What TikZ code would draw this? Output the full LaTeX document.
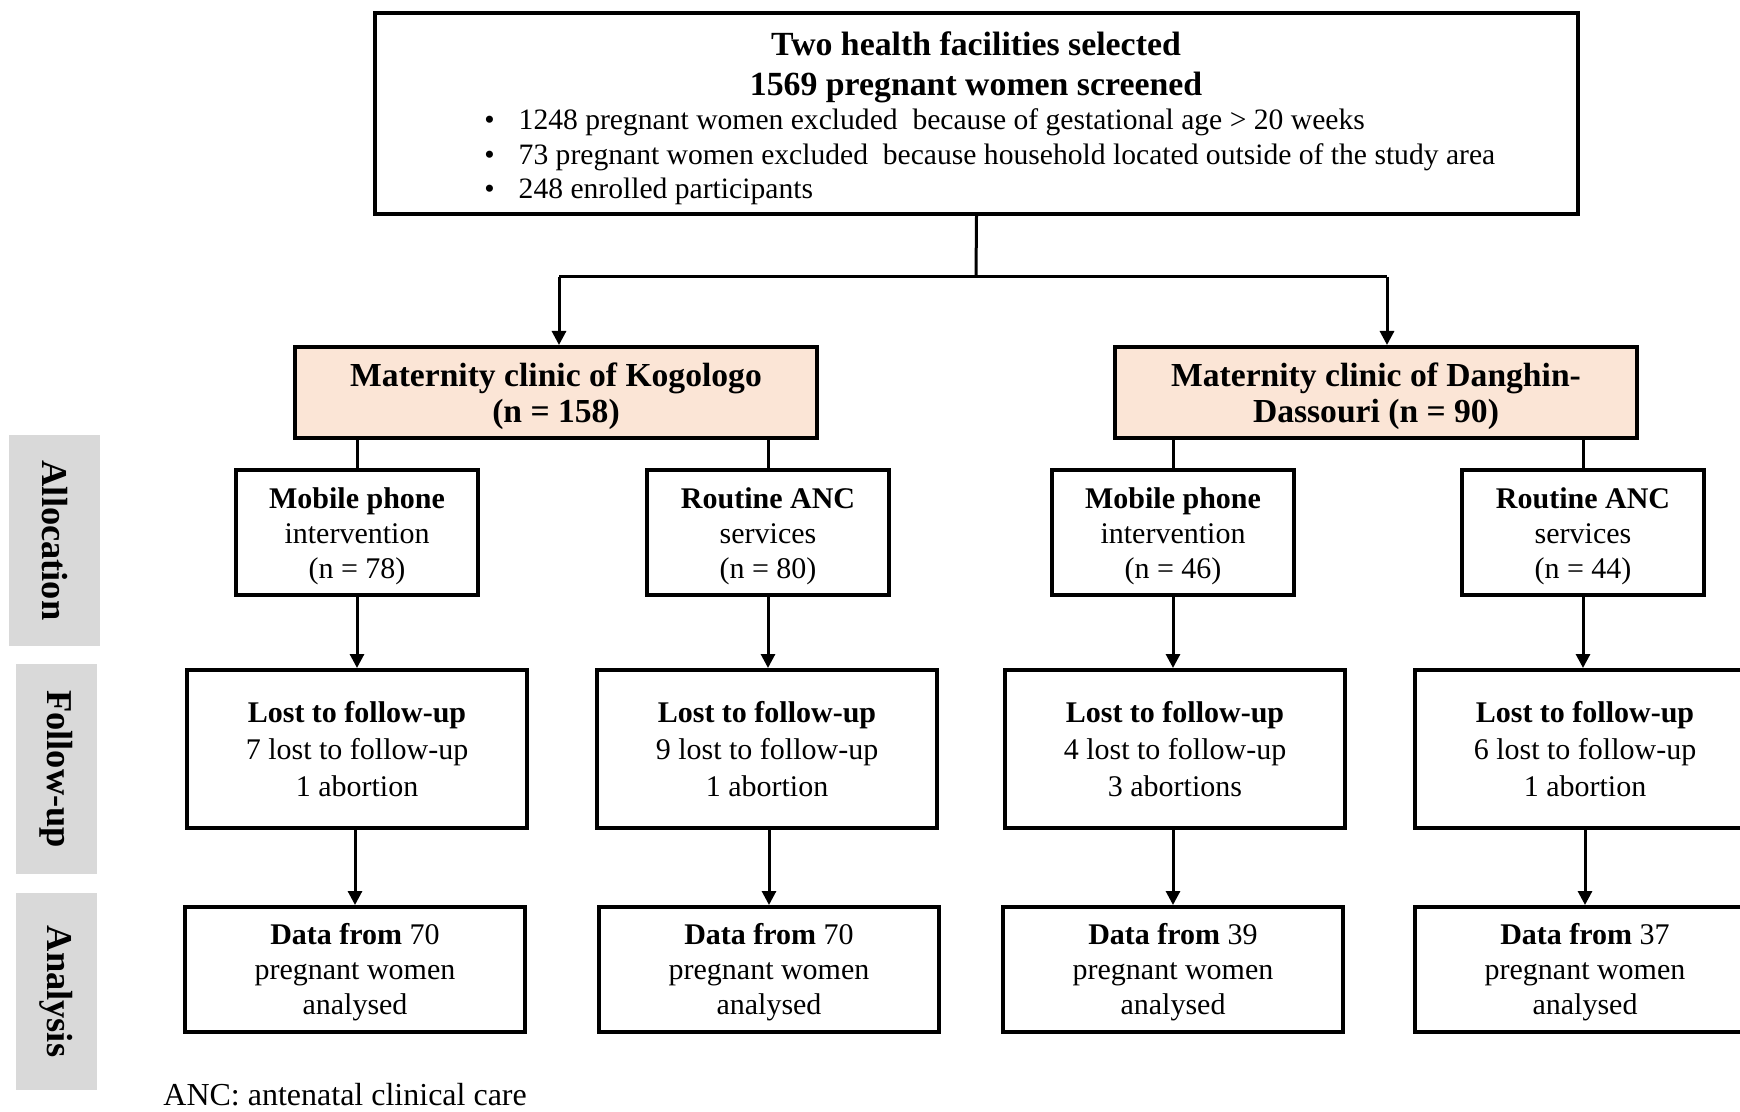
\documentclass[tikz,border=0pt]{standalone}
\usepackage{fontspec}
\setmainfont{Liberation Serif}
\usepackage{xcolor}
\usepackage{tikz}
\usetikzlibrary{arrows.meta}
\definecolor{clinicfill}{HTML}{FBE5D6}
\definecolor{phasefill}{HTML}{D9D9D9}

\begin{document}
\begin{tikzpicture}[x=0.5pt,y=-0.5pt,
  font=\fontsize{15}{17.5}\selectfont,
  box/.style={draw,line width=2pt,align=center,inner sep=0pt},
  clinicbox/.style={box,fill=clinicfill,minimum width=261pt,minimum height=45.5pt,
    font=\fontsize{16.8}{18}\selectfont\bfseries},
  armbox/.style={box,minimum width=121pt,minimum height=62.5pt},
  lostbox/.style={box,minimum width=170pt,minimum height=79pt,font=\fontsize{15}{18.3}\selectfont},
  databox/.style={box,minimum width=170pt,minimum height=62.5pt},
  phasebox/.style={fill=phasefill,inner sep=0pt,rotate=-90,
    font=\fontsize{18.2}{20}\selectfont\bfseries},
  line/.style={line width=1.5pt},
  arr/.style={line width=1.5pt,-{Triangle[length=7pt,width=7pt]}}]
\useasboundingbox (0,0) rectangle (1740,1112);
\clip (0,0) rectangle (1740,1112);

%screening
\node[box,minimum width=601.5pt,minimum height=100.5pt] (screen) at (976.5,113.5) {};
\node[font=\fontsize{16.9}{20}\selectfont\bfseries,align=center] (title) at (976,67.5)
  {Two health facilities selected\\1569 pregnant women screened};
\node[anchor=west,inner sep=0pt,font=\fontsize{14.8}{17.25}\selectfont] (excl) at (484,157.5)
  {\begin{tabular}{@{}l@{\hspace{12pt}}l@{}}
  \textbullet & 1248 pregnant women excluded\ \ because of gestational age > 20 weeks\\
  \textbullet & 73 pregnant women excluded\ \ because household located outside of the study area\\
  \textbullet & 248 enrolled participants
  \end{tabular}};

%clinics
\node[clinicbox] (kogo) at (556,392.5) {\rule{0pt}{16pt}Maternity clinic of Kogologo\\(n = 158)};
\node[clinicbox] (dang) at (1376,392.5) {\rule{0pt}{16pt}Maternity clinic of Danghin-\\Dassouri (n = 90)};

\coordinate (split) at (976,277);
\coordinate (splitK) at (559,277);
\coordinate (splitD) at (1387,277);
\draw[line] (screen.south) -- (split);
\draw[line] (splitK) -- (splitD);
\draw[arr] (splitK) -- (splitK |- kogo.north);
\draw[arr] (splitD) -- (splitD |- dang.north);

%allocation
\node[armbox] (armKm) at (357,532.5) {\rule{0pt}{14pt}\textbf{Mobile phone}\\intervention\\(n = 78)};
\node[armbox] (armKr) at (768,532.5) {\rule{0pt}{14pt}\textbf{Routine ANC}\\services\\(n = 80)};
\node[armbox] (armDm) at (1173,532.5) {\rule{0pt}{14pt}\textbf{Mobile phone}\\intervention\\(n = 46)};
\node[armbox] (armDr) at (1583,532.5) {\rule{0pt}{14pt}\textbf{Routine ANC}\\services\\(n = 44)};

\draw[line] (armKm.north |- kogo.south) -- (armKm.north);
\draw[line] (armKr.north |- kogo.south) -- (armKr.north);
\draw[line] (armDm.north |- dang.south) -- (armDm.north);
\draw[line] (armDr.north |- dang.south) -- (armDr.north);

%follow-up
\node[lostbox] (lostKm) at (357,749) {\textbf{Lost to follow-up}\\7 lost to follow-up\\1 abortion};
\node[lostbox] (lostKr) at (767,749) {\textbf{Lost to follow-up}\\9 lost to follow-up\\1 abortion};
\node[lostbox] (lostDm) at (1175,749) {\textbf{Lost to follow-up}\\4 lost to follow-up\\3 abortions};
\node[lostbox] (lostDr) at (1585,749) {\textbf{Lost to follow-up}\\6 lost to follow-up\\1 abortion};

\draw[arr] (armKm.south) -- (armKm.south |- lostKm.north);
\draw[arr] (armKr.south) -- (armKr.south |- lostKr.north);
\draw[arr] (armDm.south) -- (armDm.south |- lostDm.north);
\draw[arr] (armDr.south) -- (armDr.south |- lostDr.north);

%analysis
\node[databox] (dataKm) at (355,969.5) {\rule{0pt}{13.5pt}\textbf{Data from} 70\\pregnant women\\analysed};
\node[databox] (dataKr) at (769,969.5) {\rule{0pt}{13.5pt}\textbf{Data from} 70\\pregnant women\\analysed};
\node[databox] (dataDm) at (1173,969.5) {\rule{0pt}{13.5pt}\textbf{Data from} 39\\pregnant women\\analysed};
\node[databox] (dataDr) at (1585,969.5) {\rule{0pt}{13.5pt}\textbf{Data from} 37\\pregnant women\\analysed};

\draw[arr] (lostKm.south -| dataKm.north) -- (dataKm.north);
\draw[arr] (lostKr.south -| dataKr.north) -- (dataKr.north);
\draw[arr] (lostDm.south -| dataDm.north) -- (dataDm.north);
\draw[arr] (lostDr.south -| dataDr.north) -- (dataDr.north);

%phases
\node[phasebox,minimum width=105.5pt,minimum height=45.5pt] (alloc) at (54.5,540.5) {Allocation};
\node[phasebox,minimum width=105pt,minimum height=40.5pt] (follow) at (56.5,769) {Follow-up};
\node[phasebox,minimum width=98.5pt,minimum height=40.5pt] (analys) at (56.5,991.5) {Analysis};

\node[anchor=west,inner sep=0pt,font=\fontsize{16}{18}\selectfont] (note) at (163,1095) {ANC: antenatal clinical care};

\end{tikzpicture}
\end{document}
